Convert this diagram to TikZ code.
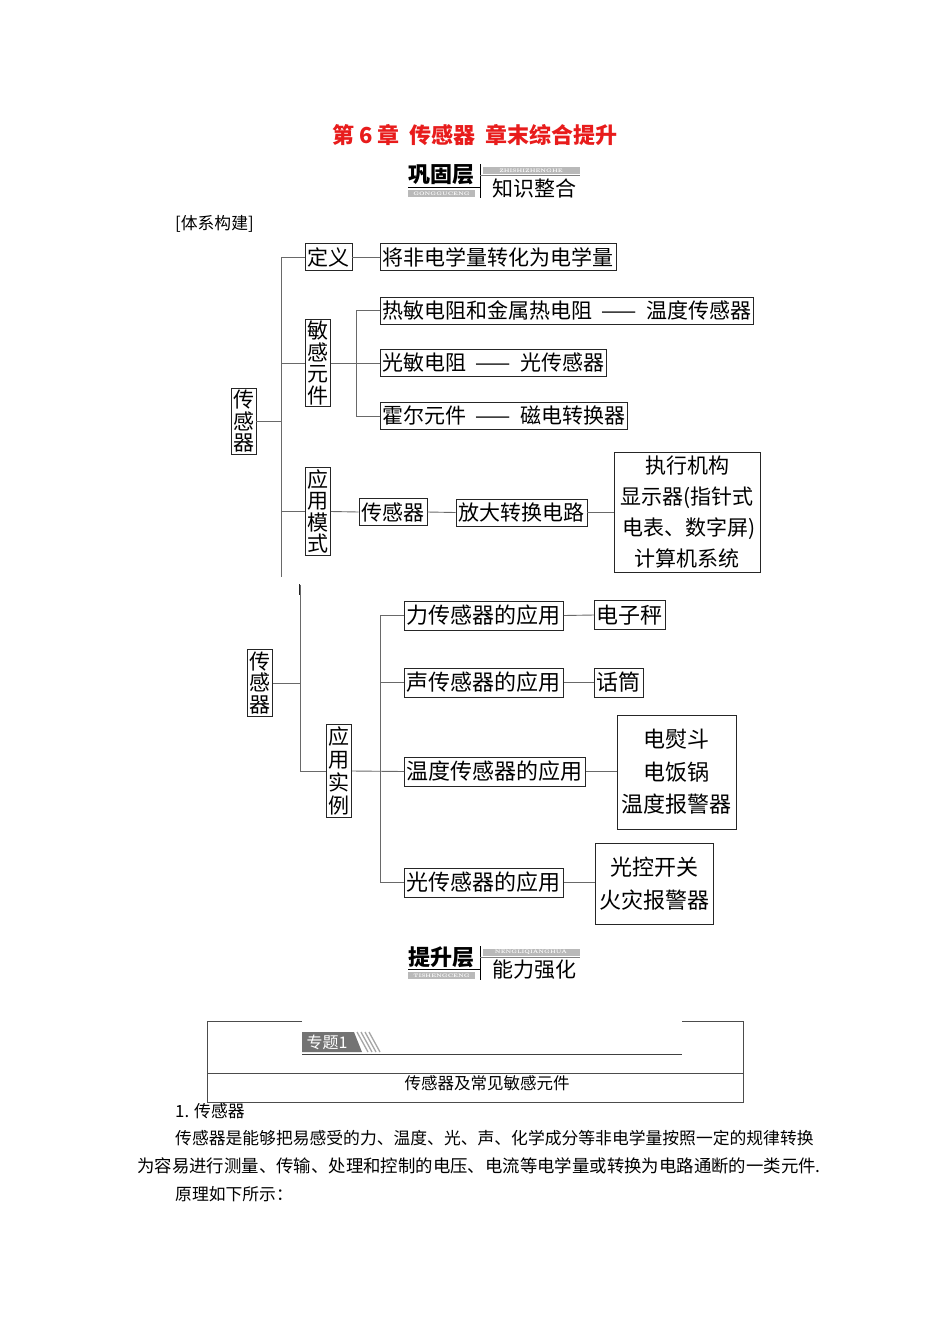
\documentclass[tikz,border=0pt]{standalone}
\usepackage{fontspec}
\usepackage{xcolor}
\usepackage{tikz}
\newfontfamily\cjk{Noto Sans CJK SC}
\definecolor{titlered}{RGB}{232, 28, 28}
\definecolor{linegray}{RGB}{105, 105, 105}
\definecolor{bargray}{RGB}{185, 185, 185}

\begin{document}
\begin{tikzpicture}[x=1pt, y=-1pt,
    bx/.style={draw=black!85, line width=0.9pt, inner xsep=2.5pt, inner ysep=0pt,
      minimum height=27pt, font=\cjk\fontsize{21}{21}\selectfont},
    bxl/.style={bx, minimum height=29pt, font=\cjk\fontsize{22}{22}\selectfont},
    vbx/.style={draw=black!85, line width=0.9pt, inner xsep=2pt, inner ysep=2pt,
      align=center, font=\cjk\fontsize{21}{21.5}\selectfont},
    mbx/.style={draw=black!85, line width=0.9pt, align=center, inner sep=0pt},
    ln/.style={draw=linegray, line width=0.9pt},
    txt/.style={inner sep=0pt, font=\cjk\fontsize{16.8}{17}\selectfont},
    tag/.style={text=white, inner sep=0pt,
      font=\fontsize{5}{5}\selectfont\bfseries\addfontfeature{LetterSpace=30}}]

\useasboundingbox[fill=white] (0,0) rectangle (950,1344);

%% -- title and first banner ---------------------------------------------
\node[inner sep=0pt, text=titlered, font=\cjk\bfseries\fontsize{22}{22}\selectfont]
  (title) at (475,135) {第 6 章\ \ 传感器\ \ 章末综合提升};

\node[inner sep=0pt, font=\cjk\bfseries\fontsize{22}{22}\selectfont] (ggc) at (441,175) {巩固层};
\draw[line width=1pt] (408,187) -- (480,187);
\fill[bargray] (408,189.5) rectangle (475,197);
\node[tag] at (441.5,193.3) {GONGGUCENG};
\draw[line width=1pt] (480,164) -- (480,198);
\fill[bargray] (483,167) rectangle (580,173.5);
\node[tag] at (531,170.3) {ZHISHIZHENGHE};
\draw[black!50, line width=0.6pt] (480,175) -- (580,175);
\node[inner sep=0pt, font=\cjk\fontsize{21}{21}\selectfont] (zszh) at (534,188) {知识整合};

\node[txt, anchor=west] (txgj) at (175,224) {[体系构建]};

%% -- upper tree --------------------------------------------------------------
\node[vbx] (cgqA) at (243.5,421.5) {传\\感\\器};
\node[bx] (dy) at (328.5,257) {定义};
\node[bx, anchor=west] (dyc) at (380,257) {将非电学量转化为电学量};
\node[vbx] (mgyj) at (318,363) {敏\\感\\元\\件};
\node[bx, anchor=west] (rm) at (380,310.5)
  {热敏电阻和金属热电阻\hspace{9pt}——\hspace{9pt}温度传感器};
\node[bx, anchor=west] (gm) at (380,363) {光敏电阻\hspace{9pt}——\hspace{9pt}光传感器};
\node[bx, anchor=west] (he) at (380,416) {霍尔元件\hspace{9pt}——\hspace{9pt}磁电转换器};
\node[vbx] (yyms) at (318,511.5) {应\\用\\模\\式};
\node[bx] (cgqB) at (393,512) {传感器};
\node[bx] (fd) at (521.5,512.5) {放大转换电路};
\node[mbx, minimum width=146pt, minimum height=120pt,
      font=\cjk\fontsize{21}{31}\selectfont] (zx) at (687,512)
  {执行机构\\显示器(指针式\\\ 电表、数字屏)\\计算机系统};

% trunks
\coordinate (tkA) at (281,257);
\coordinate (tkB) at (281,577);
\coordinate (tkC) at (356,310.5);
\draw[ln] (tkA) -- (tkB);
\draw[ln] (cgqA.east) -- (cgqA.east -| tkA);
\draw[ln] (dy.west -| tkA) -- (dy.west);
\draw[ln] (dy.east) -- (dyc.west);
\draw[ln] (mgyj.west -| tkA) -- (mgyj.west);
\draw[ln] (yyms.west -| tkA) -- (yyms.west);
\draw[ln] (mgyj.east) -- (mgyj.east -| tkC);
\draw[ln] (rm.west) -- (rm.west -| tkC) |- (he.west);
\draw[ln] (gm.west -| tkC) -- (gm.west);
\draw[ln] (yyms.east) -- (cgqB.west);
\draw[ln] (cgqB.east) -- (fd.west);
\draw[ln] (fd.east) -- (zx.west |- fd.east);

%% -- lower tree --------------------------------------------------------------
\node[vbx] (cgqC) at (260,683) {传\\感\\器};
\node[vbx, font=\cjk\fontsize{21}{23}\selectfont] (yysl) at (339,771) {应\\用\\实\\例};
\node[bxl, anchor=west] (li) at (404,615.5) {力传感器的应用};
\node[bxl, anchor=west] (sheng) at (404,682.5) {声传感器的应用};
\node[bxl, anchor=west] (wd) at (404,771.5) {温度传感器的应用};
\node[bxl, anchor=west] (guang) at (404,882.5) {光传感器的应用};
\node[bxl, anchor=west] (dzc) at (594,615) {电子秤};
\node[bxl, anchor=west] (ht) at (594,682.5) {话筒};
\node[mbx, minimum width=119pt, minimum height=114pt,
      font=\cjk\fontsize{22}{32.5}\selectfont] (wdyy) at (676.5,772)
  {电熨斗\\电饭锅\\温度报警器};
\node[mbx, minimum width=118pt, minimum height=81pt,
      font=\cjk\fontsize{22}{33}\selectfont] (gkyy) at (654,883.5)
  {光控开关\\火灾报警器};

\coordinate (tkD) at (300,585);
\coordinate (tkE) at (380,615.5);
\draw[ln] (tkD) -- (tkD |- yysl.west) -- (yysl.west);
\draw[black!85, line width=1.3pt] (299.5,584) -- (299.5,595);
\draw[ln] (cgqC.east) -- (cgqC.east -| tkD);
\draw[ln] (yysl.east) -- (wd.west);
\draw[ln] (li.west) -- (li.west -| tkE) |- (guang.west);
\draw[ln] (sheng.west -| tkE) -- (sheng.west);
\draw[ln] (li.east) -- (dzc.west);
\draw[ln] (sheng.east) -- (ht.west);
\draw[ln] (wd.east) -- (wdyy.west |- wd.east);
\draw[ln] (guang.east) -- (gkyy.west |- guang.east);

%% -- second banner ------------------------------------------------------------
\node[inner sep=0pt, font=\cjk\bfseries\fontsize{22}{22}\selectfont] (tsc) at (441,957) {提升层};
\draw[line width=1pt] (408,969) -- (480,969);
\fill[bargray] (408,971.5) rectangle (475,979);
\node[tag] at (441.5,975.3) {TISHENGCENG};
\draw[line width=1pt] (480,946) -- (480,980);
\fill[bargray] (483,949) rectangle (580,955.5);
\node[tag] at (531,952.3) {NENGLIQIANGHUA};
\draw[black!50, line width=0.6pt] (480,957) -- (580,957);
\node[inner sep=0pt, font=\cjk\fontsize{21}{21}\selectfont] (nlqh) at (534,970) {能力强化};

%% -- topic frame ---------------------------------------------------------------
\draw[black!70, line width=0.8pt] (302,1021) -- (207,1021) -- (207,1102)
  -- (743,1102) -- (743,1021) -- (682,1021);
\draw[black!70, line width=0.8pt] (207,1073) -- (743,1073);
\fill[black!55] (302,1032) -- (354,1032) -- (362,1052) -- (302,1052) -- cycle;
\node[inner sep=0pt, text=white, font=\cjk\fontsize{16}{16}\selectfont] (zt) at (327,1042) {专题1};
\foreach \dx in {0,4,8,12}
  \draw[black!35, line width=1.3pt] (357+\dx,1032) -- (368+\dx,1052);
\draw[black!75, line width=0.9pt] (302,1054) -- (682,1054);
\node[txt, font=\cjk\fontsize{16.5}{17}\selectfont] (ztname) at (487,1083) {传感器及常见敏感元件};

%% -- text ----------------------------------------------------------------------
\node[txt, anchor=west] (pA) at (175,1111) {1. 传感器};
\node[txt, anchor=west] (pB) at (175,1138)
  {传感器是能够把易感受的力、温度、光、声、化学成分等非电学量按照一定的规律转换};
\node[txt, anchor=west, font=\cjk\fontsize{17.4}{17}\selectfont] (pC) at (137,1166)
  {为容易进行测量、传输、处理和控制的电压、电流等电学量或转换为电路通断的一类元件.};
\node[txt, anchor=west] (pD) at (175,1194) {原理如下所示：};

\end{tikzpicture}
\end{document}
